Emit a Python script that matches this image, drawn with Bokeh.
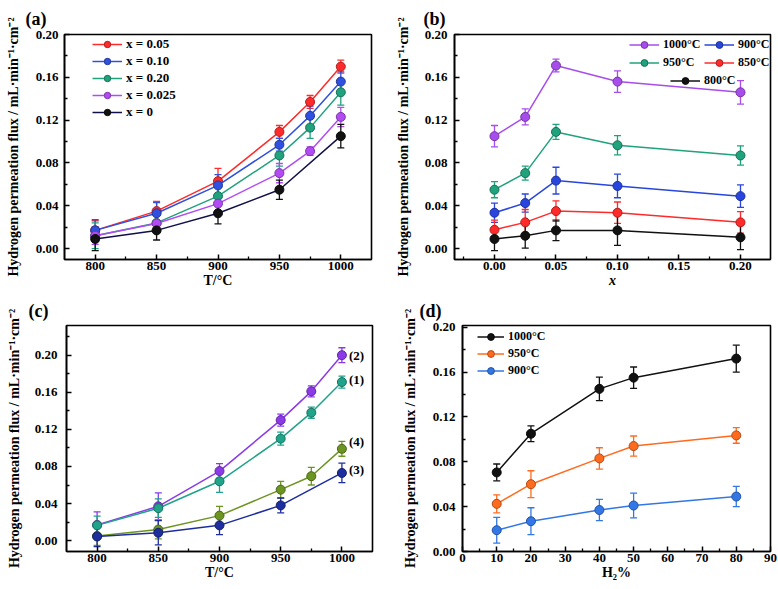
from bokeh.plotting import figure
from bokeh.models import (ColumnDataSource, Whisker, TeeHead, FixedTicker, Range1d,
                          Legend, LegendItem, PrintfTickFormatter)
from bokeh.layouts import row, column
from bokeh.embed import file_html
from bokeh.resources import INLINE
from bokeh.core.properties import value

# ---------------- data ----------------
# (a) flux vs temperature for different x
T_a = [800, 850, 900, 950, 975, 1000]
a_x005 = [0.017, 0.035, 0.063, 0.109, 0.137, 0.170]
a_x005_err = [0.009, 0.009, 0.012, 0.006, 0.006, 0.006]
a_x010 = [0.017, 0.033, 0.059, 0.097, 0.124, 0.156]
a_x010_err = [0.010, 0.010, 0.010, 0.006, 0.009, 0.009]
a_x020 = [0.012, 0.024, 0.049, 0.087, 0.113, 0.146]
a_x020_err = [0.012, 0.008, 0.008, 0.010, 0.010, 0.012]
a_x0025 = [0.012, 0.0235, 0.042, 0.0705, 0.091, 0.123]
a_x0025_err = [0.008, 0.008, 0.008, 0.009, 0.004, 0.009]
T_a0 = [800, 850, 900, 950, 1000]
a_x0 = [0.009, 0.017, 0.033, 0.055, 0.105]
a_x0_err = [0.011, 0.009, 0.010, 0.009, 0.011]
a_labels = ["x = 0.05", "x = 0.10", "x = 0.20", "x = 0.025", "x = 0"]

# (b) flux vs x for different temperatures
x_b = [0.0, 0.025, 0.05, 0.10, 0.20]
b_1000 = [0.105, 0.123, 0.171, 0.156, 0.146]
b_1000_err = [0.010, 0.0075, 0.006, 0.010, 0.011]
b_950 = [0.055, 0.0705, 0.109, 0.0965, 0.087]
b_950_err = [0.0075, 0.0065, 0.007, 0.009, 0.009]
b_900 = [0.0335, 0.0425, 0.0635, 0.0585, 0.049]
b_900_err = [0.009, 0.0085, 0.0125, 0.011, 0.0105]
b_850 = [0.0175, 0.0245, 0.035, 0.0335, 0.0245]
b_850_err = [0.009, 0.012, 0.0095, 0.010, 0.010]
b_800 = [0.009, 0.012, 0.017, 0.017, 0.0105]
b_800_err = [0.011, 0.0115, 0.0095, 0.014, 0.0115]
b_labels = ["1000°C", "950°C", "900°C", "850°C", "800°C"]

# (c) flux vs temperature, samples (1)-(4)
T_c = [800, 850, 900, 950, 975, 1000]
c_2 = [0.017, 0.037, 0.075, 0.130, 0.161, 0.200]
c_2_err = [0.014, 0.0145, 0.008, 0.0065, 0.006, 0.008]
c_1 = [0.0165, 0.035, 0.064, 0.110, 0.138, 0.171]
c_1_err = [0.010, 0.010, 0.012, 0.007, 0.006, 0.0065]
c_4 = [0.005, 0.012, 0.027, 0.055, 0.0695, 0.099]
c_4_err = [0.010, 0.010, 0.010, 0.009, 0.0095, 0.008]
T_c3 = [800, 850, 900, 950, 1000]
c_3 = [0.0045, 0.0085, 0.0165, 0.038, 0.073]
c_3_err = [0.011, 0.013, 0.010, 0.008, 0.0105]
c_labels = ["(2)", "(1)", "(4)", "(3)"]

# (d) flux vs H2 %
H_d = [10, 20, 40, 50, 80]
d_1000 = [0.0705, 0.105, 0.145, 0.155, 0.172]
d_1000_err = [0.0075, 0.007, 0.0105, 0.0095, 0.012]
d_950 = [0.0425, 0.060, 0.083, 0.094, 0.1035]
d_950_err = [0.008, 0.012, 0.0095, 0.009, 0.007]
d_900 = [0.019, 0.027, 0.037, 0.041, 0.049]
d_900_err = [0.0115, 0.012, 0.0095, 0.011, 0.009]
d_labels = ["1000°C", "950°C", "900°C"]

y_ticks = [0.0, 0.04, 0.08, 0.12, 0.16, 0.20]
y_minor = [0.02, 0.06, 0.10, 0.14, 0.18]
y_minor_c = [0.02, 0.06, 0.10, 0.14, 0.18, 0.22]
T_ticks = [800, 850, 900, 950, 1000]
T_minor = [825, 875, 925, 975]
x_ticks_b = [0.0, 0.05, 0.10, 0.15, 0.20]
x_minor_b = [-0.025, 0.025, 0.075, 0.125, 0.175]
H_ticks = [0, 10, 20, 30, 40, 50, 60, 70, 80, 90]
H_minor = [5, 15, 25, 35, 45, 55, 65, 75, 85]

YLABEL = "Hydrogen permeation flux / mL·min⁻¹·cm⁻²"
FONT = "Liberation Serif"


def darker(hexcol, f=0.7):
    h = hexcol.lstrip("#")
    r, g, b = int(h[0:2], 16), int(h[2:4], 16), int(h[4:6], 16)
    return "#%02x%02x%02x" % (int(r * f), int(g * f), int(b * f))


def make_fig(width, height, xr, yr, mbl, mbr, mbt, mbb, xt, xm, yt, ym, xfmt, xlabel,
             ylab_standoff, ytick_standoff, title, title_offset, title_standoff):
    p = figure(width=width, height=height, x_range=Range1d(*xr), y_range=Range1d(*yr),
               output_backend="svg", toolbar_location=None, title=title,
               min_border_left=mbl, min_border_right=mbr,
               min_border_top=mbt, min_border_bottom=mbb)
    p.title.align = "left"
    p.title.offset = title_offset
    p.title.standoff = title_standoff
    p.title.text_font = FONT
    p.title.text_font_style = "bold"
    p.title.text_font_size = "18px"
    p.title.text_color = "black"
    p.xgrid.visible = False
    p.ygrid.visible = False
    p.background_fill_color = "white"
    p.border_fill_color = "white"
    p.outline_line_color = "black"
    p.outline_line_width = 1.6
    p.outline_line_alpha = 1.0
    p.xaxis.ticker = FixedTicker(ticks=xt, minor_ticks=xm)
    p.yaxis.ticker = FixedTicker(ticks=yt, minor_ticks=ym)
    p.xaxis.formatter = PrintfTickFormatter(format=xfmt)
    p.yaxis.formatter = PrintfTickFormatter(format="%.2f")
    for ax in (p.xaxis[0], p.yaxis[0]):
        ax.axis_line_color = "black"
        ax.axis_line_width = 1.6
        ax.major_tick_in = 5
        ax.major_tick_out = 0
        ax.minor_tick_in = 3
        ax.minor_tick_out = 0
        ax.major_tick_line_color = "black"
        ax.minor_tick_line_color = "black"
        ax.major_tick_line_width = 1.5
        ax.minor_tick_line_width = 1.3
        ax.major_label_text_font = FONT
        ax.major_label_text_font_style = "bold"
        ax.major_label_text_font_size = "13px"
        ax.major_label_text_color = "black"
        ax.axis_label_text_font = FONT
        ax.axis_label_text_font_style = "bold"
        ax.axis_label_text_color = "black"
    p.xaxis.axis_label = xlabel
    p.xaxis.axis_label_text_font_size = "14px"
    p.xaxis.major_label_standoff = 2
    p.xaxis.axis_label_standoff = 0
    p.yaxis.axis_label = YLABEL
    p.yaxis.axis_label_text_font_size = "14px"
    p.yaxis.major_label_standoff = ytick_standoff
    p.yaxis.axis_label_standoff = ylab_standoff
    return p


def series(p, x, y, e, color, line_color=None):
    src = ColumnDataSource(dict(x=x, y=y,
                                lo=[a - b for a, b in zip(y, e)],
                                hi=[a + b for a, b in zip(y, e)]))
    w = Whisker(source=src, base="x", upper="hi", lower="lo", dimension="height",
                line_color=color, line_width=1.3,
                upper_head=TeeHead(size=7, line_color=color, line_width=1.3),
                lower_head=TeeHead(size=7, line_color=color, line_width=1.3))
    p.add_layout(w)
    ln = p.line("x", "y", source=src, line_color=line_color or color, line_width=1.5)
    sc = p.scatter("x", "y", source=src, size=9, fill_color=color,
                   line_color=darker(color), line_width=1)
    return ln, sc


def add_legend(p, items, loc, glyph_h=16, spacing=1, fs="13px", gw=30):
    lg = Legend(items=[LegendItem(label=l, renderers=list(r)) for l, r in items],
                location=loc, orientation="vertical",
                glyph_width=gw, glyph_height=glyph_h, label_height=glyph_h,
                label_standoff=4, spacing=spacing, padding=0, margin=0,
                border_line_alpha=0, background_fill_alpha=0,
                label_text_font=FONT, label_text_font_style="bold",
                label_text_font_size=fs, label_text_color="black")
    p.add_layout(lg)


# ---------------- (a) ----------------
pa = make_fig(390, 293, (775, 1025), (-0.0102, 0.2), 64, 19, 33, 34,
              T_ticks, T_minor, y_ticks, y_minor, "%d", "T/°C", 12, 6, "(a)", -39, 12)
ca = ["#FF2A2A", "#3050E0", "#20A27C", "#B24BF3", "#111111"]
ra = [series(pa, T_a, a_x005, a_x005_err, ca[0]),
      series(pa, T_a, a_x010, a_x010_err, ca[1]),
      series(pa, T_a, a_x020, a_x020_err, ca[2]),
      series(pa, T_a, a_x0025, a_x0025_err, ca[3]),
      series(pa, T_a0, a_x0, a_x0_err, ca[4], line_color="#10104A")]
add_legend(pa, list(zip(a_labels, ra)), (28, 139))

# ---------------- (b) ----------------
pb = make_fig(388, 293, (-0.0325, 0.2244), (-0.0102, 0.2), 64, 8, 33, 34,
              x_ticks_b, x_minor_b, y_ticks, y_minor, "%.2f", "x", 11, 7, "(b)", -31, 12)
pb.xaxis.axis_label_text_font_style = "bold italic"
cb = ["#A64DEB", "#20A27C", "#2846DE", "#FF2A2A", "#111111"]
rb = [series(pb, x_b, b_1000, b_1000_err, cb[0]),
      series(pb, x_b, b_950, b_950_err, cb[1]),
      series(pb, x_b, b_900, b_900_err, cb[2]),
      series(pb, x_b, b_850, b_850_err, cb[3]),
      series(pb, x_b, b_800, b_800_err, cb[4])]
add_legend(pb, [(b_labels[0], rb[0]), (b_labels[1], rb[1])], (175, 188), glyph_h=17, fs="12px")
add_legend(pb, [(b_labels[2], rb[2]), (b_labels[3], rb[3])], (250, 188), glyph_h=17, fs="12px")
add_legend(pb, [(b_labels[4], rb[4])], (216, 170), glyph_h=17, fs="12px")

# ---------------- (c) ----------------
pc = make_fig(390, 296, (775, 1025), (-0.0117, 0.232), 66, 18, 31, 36,
              T_ticks, T_minor, y_ticks, y_minor_c, "%d", "T/°C", 10, 9, "(c)", -38, 10)
cc = ["#8B3AE8", "#1FA389", "#6B9420", "#1E2E9E"]
rc = [series(pc, T_c, c_2, c_2_err, cc[0]),
      series(pc, T_c, c_1, c_1_err, cc[1]),
      series(pc, T_c, c_4, c_4_err, cc[2]),
      series(pc, T_c3, c_3, c_3_err, cc[3])]
lab_src = ColumnDataSource(dict(x=[T_c[-1], T_c[-1], T_c[-1], T_c3[-1]],
                                y=[c_2[-1], c_1[-1], c_4[-1], c_3[-1]],
                                t=c_labels, dy=[0, -3, -7, -3]))
pc.text(x="x", y="y", text="t", source=lab_src, x_offset=7, y_offset="dy",
        text_font=value(FONT), text_font_style="bold", text_font_size="13px",
        text_baseline="middle", text_align="left", text_color="black")

# ---------------- (d) ----------------
pd_ = make_fig(388, 296, (0, 90), (0, 0.2015), 72, 8, 31, 38,
               H_ticks, H_minor, y_ticks, y_minor, "%d", "H₂%", 12, 7, "(d)", -43, 10)
cd = ["#111111", "#FF6B1E", "#3377E6"]
rd = [series(pd_, H_d, d_1000, d_1000_err, cd[0]),
      series(pd_, H_d, d_950, d_950_err, cd[1]),
      series(pd_, H_d, d_900, d_900_err, cd[2])]
add_legend(pd_, list(zip(d_labels, rd)), (15, 172), glyph_h=17, spacing=0, fs="12px", gw=27)

layout = column(row(pa, pb), row(pc, pd_))
open("out.html", "w").write(file_html(layout, INLINE))
